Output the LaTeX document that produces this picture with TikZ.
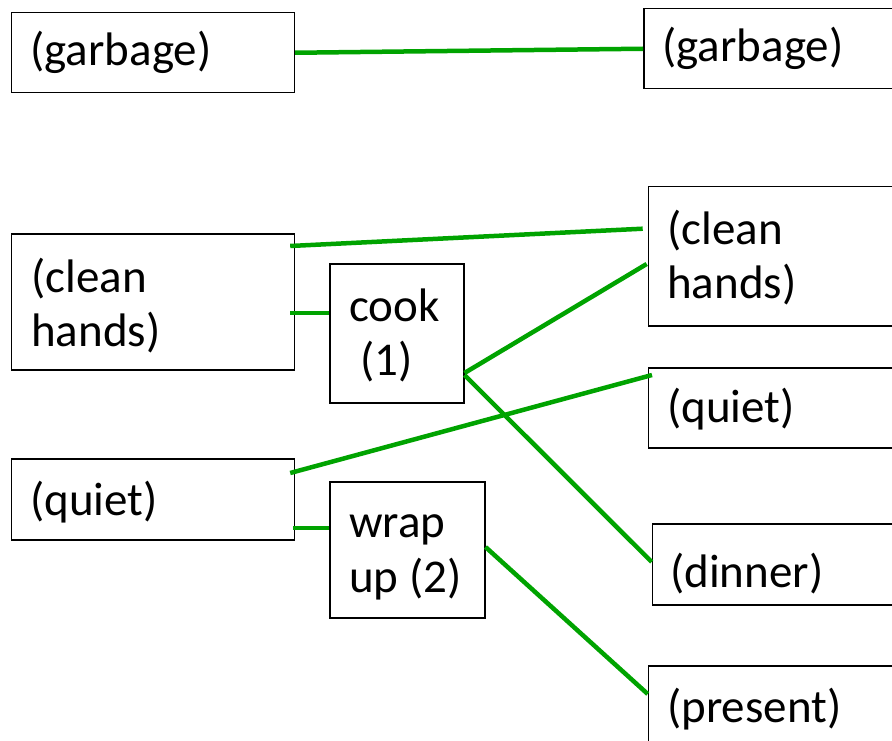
\documentclass[tikz,border=0pt]{standalone}
\usepackage{fontspec}
\setmainfont{Carlito}
\usetikzlibrary{calc}
\definecolor{linkgreen}{RGB}{0,163,0}
\begin{document}
\begin{tikzpicture}[x=1pt,y=-1pt,
  box/.style={draw=black,line width=1.5pt,rectangle,inner sep=0pt,anchor=north west},
  lbl/.style={anchor=base west,inner sep=0pt,font=\fontsize{47}{54}\selectfont},
  link/.style={draw=linkgreen,line width=4.5pt}]
\useasboundingbox (0,0) rectangle (892,741);
\clip (0,0) rectangle (892,741);
% boxes
\node[box,minimum width=283pt,minimum height=80pt]  (gL)   at (10.7,12) {};
\node[box,minimum width=300pt,minimum height=80pt]  (gR)   at (643,8) {};
\node[box,minimum width=283pt,minimum height=136pt] (cL)   at (10.7,233) {};
\node[box,minimum width=134pt,minimum height=139pt] (cook) at (329,263) {};
\node[box,minimum width=300pt,minimum height=139pt] (cR)   at (647.7,186) {};
\node[box,minimum width=300pt,minimum height=80pt]  (qR)   at (647.7,367) {};
\node[box,minimum width=283pt,minimum height=81pt]  (qL)   at (10.7,458) {};
\node[box,minimum width=155pt,minimum height=136pt] (wrap) at (329,481) {};
\node[box,minimum width=300pt,minimum height=81pt]  (dR)   at (651.7,523) {};
\node[box,minimum width=300pt,minimum height=80pt]  (pR)   at (647.7,665) {};
% labels
\node[lbl] (tgL)  at (30,66)    {(garbage)};
\node[lbl] (tgR)  at (662,62)   {(garbage)};
\node[lbl] (tcL1) at (31,292)   {(clean};
\node[lbl] (tcL2) at (31,346)   {hands)};
\node[lbl] (tck1) at (349,321)  {cook};
\node[lbl] (tck2) at (360,375)  {(1)};
\node[lbl] (tcR1) at (667,244)  {(clean};
\node[lbl] (tcR2) at (667,298)  {hands)};
\node[lbl] (tqR)  at (667,422)  {(quiet)};
\node[lbl] (tqL)  at (30,515)   {(quiet)};
\node[lbl] (twr1) at (349,537)  {wrap};
\node[lbl] (twr2) at (349,592)  {up (2)};
\node[lbl] (tdR)  at (670,587)  {(dinner)};
\node[lbl] (tpR)  at (667,722)  {(present)};
% connectors
\draw[link] (gL.east) -- (gR.west);
\draw[link] ([shift={(-5,13)}]cL.north east) -- ([shift={(-5,42.7)}]cR.north west);
\draw[link] ([shift={(-5,80)}]cL.north east) -- ([shift={(0,50)}]cook.north west);
\draw[link] ([shift={(0,110)}]cook.north east) -- ([shift={(-1,78)}]cR.north west);
\draw[link] ([shift={(0,112)}]cook.north east) -- ([shift={(0,39)}]dR.north west);
\draw[link] ([shift={(-5,15)}]qL.north east) -- ([shift={(4.3,8)}]qR.north west);
\draw[link] ([shift={(-2,70)}]qL.north east) -- ([shift={(0,47)}]wrap.north west);
\draw[link] ([shift={(0,66)}]wrap.north east) -- ([shift={(0,29)}]pR.north west);
\end{tikzpicture}
\end{document}
